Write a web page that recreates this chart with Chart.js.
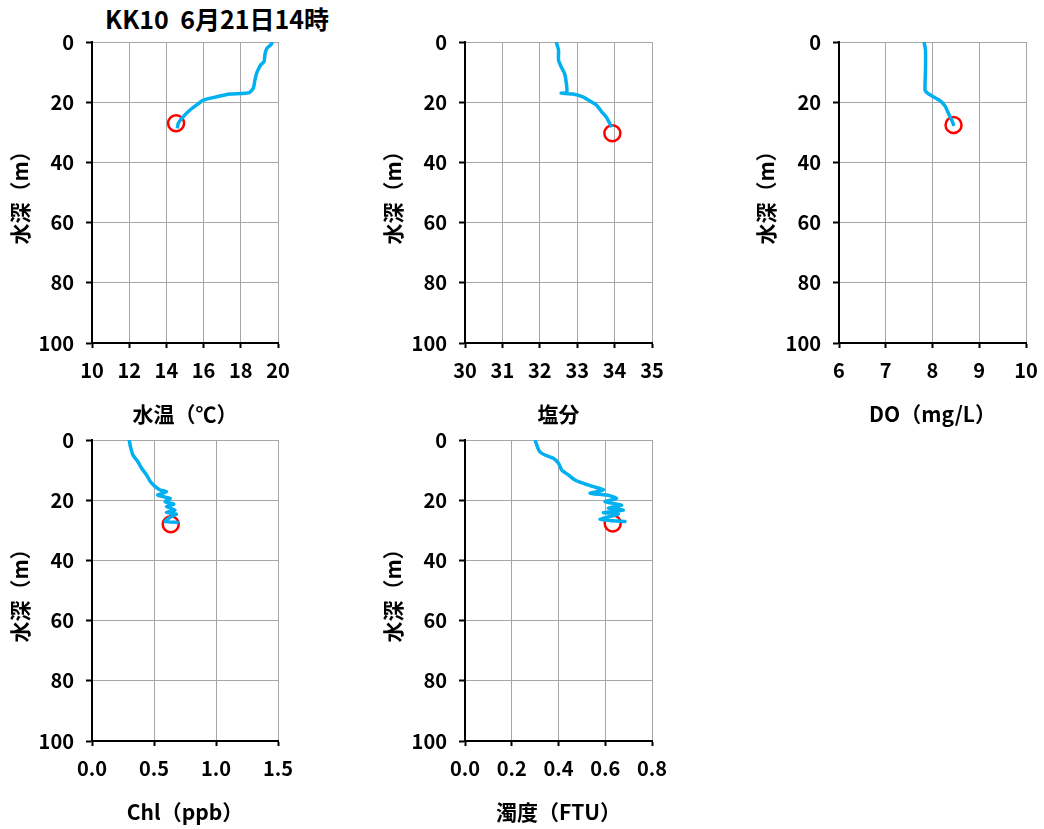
<!DOCTYPE html>
<html>
<head>
<meta charset="utf-8">
<script src="https://cdn.jsdelivr.net/npm/chart.js@4"></script>
<style>
  body { margin: 0; background: #fff; width: 1044px; height: 829px; position: relative; overflow: hidden; }
  canvas { position: absolute; }
  #title { position: absolute; left: 105px; top: 4px; font: bold 25px "Noto Sans CJK JP", sans-serif; line-height: 28px; white-space: pre; color: #000; }
</style>
</head>
<body>
<div id="title">KK10  6月21日14時</div>
<canvas id="c-temp" width="300" height="402" style="left:0;top:28px"></canvas>
<canvas id="c-sal" width="300" height="402" style="left:373px;top:28px"></canvas>
<canvas id="c-do" width="298" height="402" style="left:746px;top:28px"></canvas>
<canvas id="c-chl" width="300" height="402" style="left:0;top:426px"></canvas>
<canvas id="c-turb" width="300" height="402" style="left:373px;top:426px"></canvas>
<script>
// depth profiles (depth in m, values per sensor)
const tempDepth = [0, 1, 2.1, 4, 6.5, 7.6, 9, 10.4, 13, 15.4, 16.8, 17.1, 17.3, 18.2, 19.3, 20.9, 22.6, 24.8, 27, 28.7];
const tempValue = [19.7, 19.6, 19.4, 19.3, 19.25, 19.07, 18.95, 18.85, 18.75, 18.67, 18.46, 18.0, 17.42, 16.7, 15.99, 15.63, 15.27, 14.91, 14.64, 14.59];

const salDepth = [0, 2.7, 6, 8.2, 10.4, 13.7, 16.8, 17.0, 17.3, 18.2, 19.5, 20.9, 23.1, 25, 27, 28.3];
const salValue = [32.44, 32.5, 32.5, 32.57, 32.66, 32.71, 32.72, 32.57, 32.88, 33.15, 33.33, 33.51, 33.65, 33.78, 33.87, 33.92];

const doDepth = [0, 2.7, 9.3, 15.9, 16.8, 18.2, 19.5, 21.3, 23.7, 25.9, 27.9];
const doValue = [7.82, 7.85, 7.85, 7.84, 7.88, 8.02, 8.16, 8.27, 8.34, 8.41, 8.46];

const chlDepth = [0, 2.2, 5, 7.2, 9.4, 11.6, 13.8, 15.5, 16.6, 17.2, 18.3, 19.4, 20.5, 21.3, 22.1, 23.3, 24.1, 24.6, 25.7, 27.1, 27.4];
const chlValue = [0.30, 0.31, 0.33, 0.37, 0.40, 0.44, 0.47, 0.51, 0.55, 0.60, 0.53, 0.63, 0.59, 0.66, 0.60, 0.67, 0.60, 0.68, 0.63, 0.59, 0.70];

const turbDepth = [0, 1.7, 3.9, 5, 6.1, 7.7, 10, 11.6, 13.3, 14.4, 15.5, 16.6, 17.7, 18.3, 19.4, 20.5, 21.6, 22.7, 23.3, 24.1, 24.6, 26.4, 27.1, 26.8];
const turbValue = [0.30, 0.307, 0.32, 0.342, 0.378, 0.40, 0.414, 0.442, 0.47, 0.506, 0.549, 0.592, 0.535, 0.606, 0.649, 0.599, 0.67, 0.613, 0.677, 0.592, 0.656, 0.578, 0.684, 0.62];

// red circles = water sampling point
const sampleValue = [14.52, 33.94, 8.45, 0.635, 0.632];
const sampleDepth = [27, 30.3, 27.6, 28, 27.7];

const depthTicks = [0, 20, 40, 60, 80, 100];

const FONT = '"Noto Sans CJK JP", "Noto Sans", sans-serif';
const GRID = '#a6a6a6';
const LINE = '#00b0f0';

function panel(id, vals, depths, i, xr, xTitle, yWidth, padRight) {
  const pts = vals.map((v, k) => ({ x: v, y: depths[k] }));
  return new Chart(document.getElementById(id), {
    type: 'scatter',
    data: {
      datasets: [
        { data: pts, showLine: true, borderColor: LINE, borderWidth: 3.5, pointRadius: 0, tension: 0.2 },
        { data: [{ x: sampleValue[i], y: sampleDepth[i] }], showLine: false, pointRadius: 8,
          pointBorderColor: '#ff0000', pointBackgroundColor: 'rgba(0,0,0,0)', pointBorderWidth: 2.5 }
      ]
    },
    options: {
      responsive: false, animation: false, devicePixelRatio: 1,
      layout: { padding: { left: 0, top: 14, right: padRight, bottom: 0 } },
      plugins: { legend: { display: false }, tooltip: { enabled: false } },
      scales: {
        x: {
          type: 'linear', min: xr.min, max: xr.max,
          ticks: { stepSize: xr.step, color: '#000', padding: 10, maxRotation: 0,
            font: { family: FONT, size: 20, weight: 'bold' },
            callback: v => (xr.every && Math.round(v / xr.step) % xr.every) ? '' : v.toFixed(xr.dec) },
          grid: { color: GRID, lineWidth: 1, tickLength: 5, tickWidth: 2,
            tickColor: c => (xr.every && c.tick && Math.round(c.tick.value / xr.step) % xr.every) ? 'rgba(0,0,0,0)' : '#000' },
          border: { color: '#000', width: 2 },
          title: { display: true, text: xTitle, color: '#000', padding: { top: 0, bottom: 5 },
            font: { family: FONT, size: 21, weight: 'bold', lineHeight: 1 } },
          afterFit: s => { s.height = 87; s.paddingLeft = 0; s.paddingRight = 0; }
        },
        y: {
          type: 'linear', reverse: true, min: 0, max: 100,
          afterBuildTicks: s => { s.ticks = depthTicks.map(v => ({ value: v })); },
          ticks: { color: '#000', padding: 12, font: { family: FONT, size: 20, weight: 'bold' } },
          grid: { color: GRID, lineWidth: 1, tickLength: 6, tickWidth: 2, tickColor: '#000' },
          border: { color: '#000', width: 2 },
          title: { display: true, text: '水深（m）', color: '#000', padding: { top: 10, bottom: 0 },
            font: { family: FONT, size: 21, weight: 'bold', lineHeight: 1 } },
          afterFit: s => { s.width = yWidth; s.paddingTop = 0; s.paddingBottom = 0; }
        }
      }
    }
  });
}

panel('c-temp', tempValue, tempDepth, 0, { min: 10, max: 20, step: 1, every: 2, dec: 0 }, '水温（℃）', 92, 22);
panel('c-sal', salValue, salDepth, 1, { min: 30, max: 35, step: 1, dec: 0 }, '塩分', 92, 21);
panel('c-do', doValue, doDepth, 2, { min: 6, max: 10, step: 1, dec: 0 }, 'DO（mg/L）', 93, 18);
panel('c-chl', chlValue, chlDepth, 3, { min: 0, max: 1.5, step: 0.5, dec: 1 }, 'Chl（ppb）', 92, 22);
panel('c-turb', turbValue, turbDepth, 4, { min: 0, max: 0.8, step: 0.2, dec: 1 }, '濁度（FTU）', 92, 21);
</script>
</body>
</html>
